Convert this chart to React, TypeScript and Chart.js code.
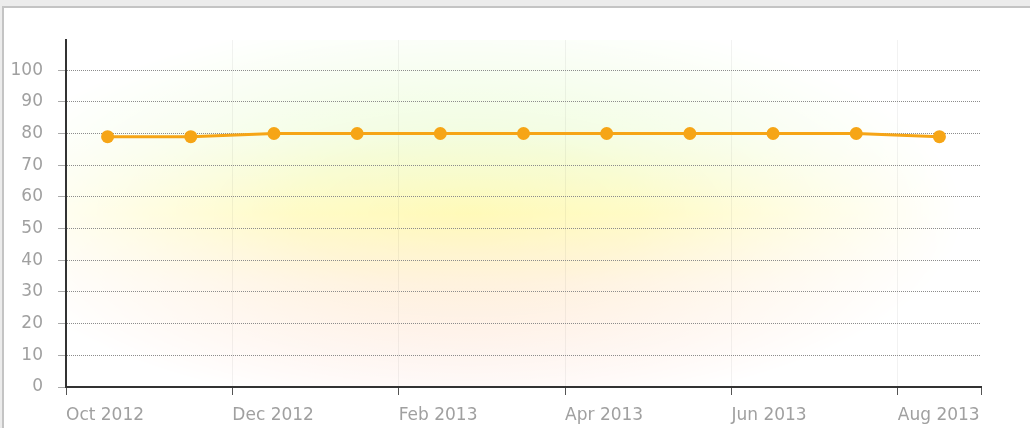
import React, { useEffect, useRef } from "react";
import { Chart, registerables } from "chart.js";

Chart.register(...registerables);

// Month index (0 = 1 Oct 2012), points sit mid-month
const pointPositions = [0.5, 1.5, 2.5, 3.5, 4.5, 5.5, 6.5, 7.5, 8.5, 9.5, 10.5];
const seriesValues = [79, 79, 80, 80, 80, 80, 80, 80, 80, 80, 79];
const xTickValues = [0, 2, 4, 6, 8, 10, 11];
const xTickLabels = ["Oct 2012", "Dec 2012", "Feb 2013", "Apr 2013", "Jun 2013", "Aug 2013", ""];
const yTickValues = [0, 10, 20, 30, 40, 50, 60, 70, 80, 90, 100];

const FONT = "'DejaVu Sans', Verdana, sans-serif";

const glowPlugin = {
  id: "glow",
  beforeDraw(chart: any) {
    const { ctx, chartArea: a } = chart;
    const w = Math.ceil(a.right - a.left);
    const h = Math.ceil(a.bottom - a.top);
    const off = document.createElement("canvas");
    off.width = w;
    off.height = h;
    const o = off.getContext("2d")!;
    const lg = o.createLinearGradient(0, 0, 0, h);
    lg.addColorStop(0, "#e2fbce");
    lg.addColorStop(0.25, "#ebfcd0");
    lg.addColorStop(0.5, "#fff9ac");
    lg.addColorStop(0.7, "#ffecce");
    lg.addColorStop(1, "#fcd8cc");
    o.fillStyle = lg;
    o.fillRect(0, 0, w, h);
    o.globalCompositeOperation = "destination-in";
    const cx = w * 0.44;
    const cy = h * 0.5;
    const rx = w * 0.54;
    const ry = h * 0.58;
    o.save();
    o.translate(cx, cy);
    o.scale(rx / ry, 1);
    const rg = o.createRadialGradient(0, 0, 0, 0, 0, ry);
    rg.addColorStop(0, "rgba(0,0,0,0.85)");
    rg.addColorStop(0.35, "rgba(0,0,0,0.68)");
    rg.addColorStop(0.7, "rgba(0,0,0,0.3)");
    rg.addColorStop(1, "rgba(0,0,0,0)");
    o.fillStyle = rg;
    o.fillRect(-20000, -20000, 40000, 40000);
    o.restore();
    ctx.save();
    ctx.drawImage(off, a.left, a.top);
    ctx.restore();
  },
};

export default function App() {
  const ref = useRef<HTMLCanvasElement | null>(null);

  useEffect(() => {
    if (!ref.current) return;
    const chart = new Chart(ref.current, {
      type: "line",
      data: {
        datasets: [
          {
            data: pointPositions.map((x, i) => ({ x, y: seriesValues[i] })),
            borderColor: "#f6a516",
            backgroundColor: "#f6a516",
            borderWidth: 3,
            pointRadius: 6.5,
            pointBorderWidth: 0,
            pointBackgroundColor: "#f6a516",
            fill: false,
            tension: 0,
          },
        ],
      },
      options: {
        responsive: false,
        animation: false,
        layout: { padding: { top: 40, right: 49, left: 0, bottom: 0 } },
        plugins: {
          legend: { display: false },
          tooltip: { enabled: false },
        },
        scales: {
          x: {
            type: "linear",
            min: 0,
            max: 11,
            afterBuildTicks: (s: any) => {
              s.ticks = xTickValues.map((v) => ({ value: v }));
            },
            afterFit: (s: any) => {
              s.height = 41;
            },
            ticks: {
              autoSkip: false,
              maxRotation: 0,
              minRotation: 0,
              align: "start",
              padding: 10,
              color: "#a0a0a0",
              font: { family: FONT, size: 17 },
              callback: (_v: any, i: number) => xTickLabels[i],
            },
            grid: {
              color: (c: any) =>
                c.tick && c.tick.value > 0 && c.tick.value < 11 ? "rgba(0,0,0,0.05)" : "rgba(0,0,0,0)",
              lineWidth: 1,
              tickLength: 8,
              tickColor: "#555",
              tickWidth: 1,
              tickBorderDash: [],
            },
            border: { display: true, color: "#333", width: 2 },
          },
          y: {
            type: "linear",
            min: 0,
            max: 109.5,
            afterBuildTicks: (s: any) => {
              s.ticks = yTickValues.map((v) => ({ value: v }));
            },
            afterFit: (s: any) => {
              s.width = 66;
            },
            ticks: {
              padding: 15,
              color: "#a0a0a0",
              font: { family: FONT, size: 17 },
            },
            grid: {
              color: (c: any) => (c.tick && c.tick.value > 0 ? "#8c8c8c" : "rgba(0,0,0,0)"),
              lineWidth: 1,
              tickLength: 8,
              tickColor: "#aaa",
              tickWidth: 1,
              tickBorderDash: [],
            },
            border: { display: true, color: "#333", width: 2, dash: [1, 1] },
          },
        },
      },
      plugins: [glowPlugin],
    });
    return () => chart.destroy();
  }, []);

  return (
    <div
      style={{
        position: "absolute",
        left: 0,
        top: 0,
        width: 1030,
        height: 428,
        background: "#ececec",
        overflow: "hidden",
      }}
    >
      <div
        style={{
          position: "absolute",
          left: 2,
          top: 6,
          right: 0,
          bottom: 0,
          background: "#fff",
          borderTop: "2px solid #c4c4c4",
          borderLeft: "2px solid #c4c4c4",
        }}
      />
      <canvas
        ref={ref}
        width={1030}
        height={428}
        style={{ position: "absolute", left: 0, top: 0, width: 1030, height: 428 }}
      />
    </div>
  );
}
